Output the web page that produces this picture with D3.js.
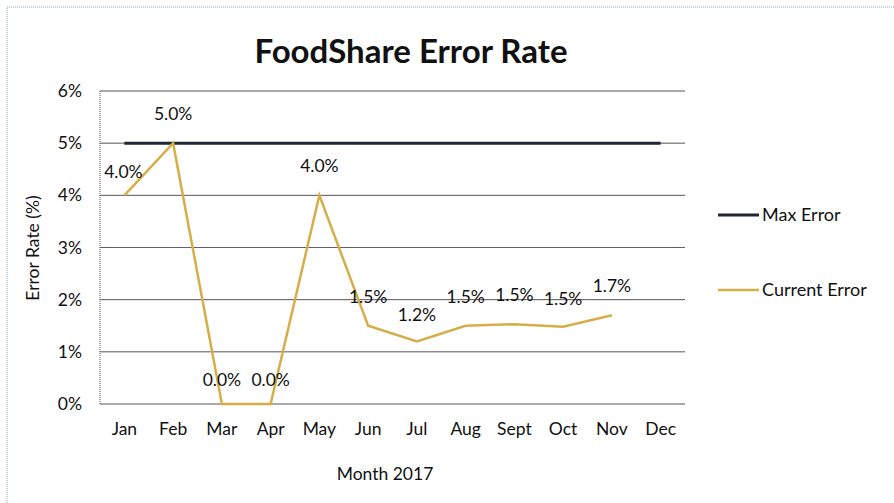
<!DOCTYPE html>
<html>
<head>
<meta charset="utf-8">
<title>FoodShare Error Rate</title>
<script src="https://d3js.org/d3.v7.min.js"></script>
<style>
  body { margin: 0; background: #fff; }
  text { font-family: Lato, "Open Sans", sans-serif; fill: #111; }
</style>
</head>
<body>
<svg width="894" height="503"></svg>
<script>
// data
var months = ["Jan", "Feb", "Mar", "Apr", "May", "Jun", "Jul", "Aug", "Sept", "Oct", "Nov", "Dec"];
var currentError = [4.0, 5.0, 0.0, 0.0, 4.0, 1.5, 1.2, 1.5, 1.53, 1.48, 1.7];
var maxError = [5, 5, 5, 5, 5, 5, 5, 5, 5, 5, 5, 5];
var yTicks = [0, 1, 2, 3, 4, 5, 6];

var svg = d3.select("svg"),
    margin = { top: 91, right: 209, bottom: 99, left: 100 },
    width = 894 - margin.left - margin.right,
    height = 503 - margin.top - margin.bottom;

// scanned page border
svg.append("rect")
    .attr("x", 7).attr("y", 7).attr("width", 894).attr("height", 520)
    .attr("fill", "none").attr("stroke", "#8fa8c8").attr("stroke-dasharray", "1,1");

var g = svg.append("g").attr("transform", "translate(" + margin.left + "," + margin.top + ")");

var x = d3.scaleBand().domain(months).range([0, width]);
var y = d3.scaleLinear().domain([0, 6]).range([height, 0]);

// gridlines
g.selectAll(".grid").data(yTicks).enter().append("line")
    .attr("x1", 0).attr("x2", width)
    .attr("y1", function (d) { return y(d); }).attr("y2", function (d) { return y(d); })
    .attr("stroke", function (d) { return d === 3 ? "#6a5a78" : "#555"; })
    .attr("stroke-width", 1);

// left axis line (dotted)
g.append("line").attr("x1", 0).attr("x2", 0).attr("y1", 0).attr("y2", height)
    .attr("stroke", "#555").attr("stroke-dasharray", "1,1");

// y tick labels
var yAxis = g.append("g").call(d3.axisLeft(y).tickValues(yTicks).tickSize(0).tickPadding(18)
    .tickFormat(function (d) { return d + "%"; }));
yAxis.select(".domain").remove();
yAxis.selectAll("text").style("font-size", "17.5px").style("font-family", "Lato, sans-serif").attr("fill", "#111");

// x tick labels
var xAxis = g.append("g").attr("transform", "translate(0," + height + ")")
    .call(d3.axisBottom(x).tickSize(0).tickPadding(19));
xAxis.select(".domain").remove();
xAxis.selectAll("text").style("font-size", "17.5px").style("font-family", "Lato, sans-serif").attr("fill", "#111");

var cx = function (d, i) { return x(months[i]) + x.bandwidth() / 2; };

// max error line
g.append("path").datum(maxError)
    .attr("fill", "none").attr("stroke", "#1e2733").attr("stroke-width", 3)
    .attr("d", d3.line().x(cx).y(function (d) { return y(d); }));

// current error line
g.append("path").datum(currentError)
    .attr("fill", "none").attr("stroke", "#d6ae48").attr("stroke-width", 2.5)
    .attr("d", d3.line().x(cx).y(function (d) { return y(d); }));

// data labels
g.selectAll(".lbl").data(currentError).enter().append("text")
    .attr("x", function (d, i) {
        if (i === 0) return cx(d, i) - 1;
        return cx(d, i);
    })
    .attr("y", function (d, i) {
        if (i === 0) return y(d) - 17;
        if (i === 6) return y(d) - 20;
        if (i === 9) return y(d) - 22;
        if (i === 2 || i === 3) return y(d) - 18;
        return y(d) - 23;
    })
    .attr("text-anchor", "middle")
    .style("font-size", "17.5px")
    .text(function (d) { return d3.format(".1f")(d) + "%"; });

// title
svg.append("text").attr("x", 411).attr("y", 63).attr("text-anchor", "middle")
    .style("font-size", "33px").style("font-weight", "bold").text("FoodShare Error Rate");

// axis titles
svg.append("text").attr("transform", "translate(39,248) rotate(-90)").attr("text-anchor", "middle")
    .style("font-size", "17.5px").text("Error Rate (%)");
svg.append("text").attr("x", 385).attr("y", 480).attr("text-anchor", "middle")
    .style("font-size", "17.5px").text("Month 2017");

// legend
var legend = [{ name: "Max Error", color: "#1e2733", w: 3, y: 215 }, { name: "Current Error", color: "#d6ae48", w: 2.5, y: 290 }];
var lg = svg.selectAll(".legend").data(legend).enter().append("g")
    .attr("transform", function (d) { return "translate(718," + d.y + ")"; });
lg.append("line").attr("x1", 0).attr("x2", 41)
    .attr("stroke", function (d) { return d.color; }).attr("stroke-width", function (d) { return d.w; });
lg.append("text").attr("x", 44).attr("y", 6).style("font-size", "18px").text(function (d) { return d.name; });
</script>
</body>
</html>
